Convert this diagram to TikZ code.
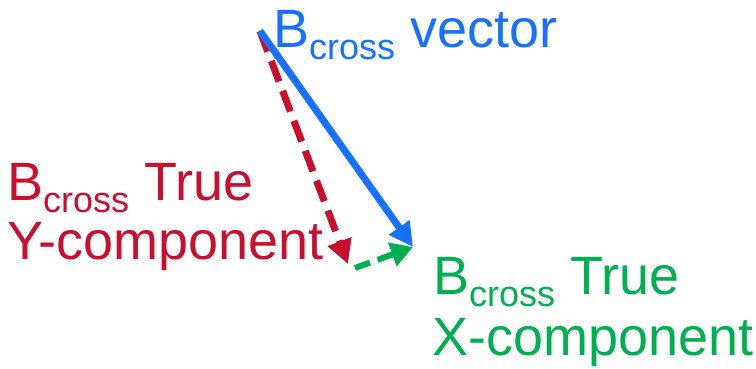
\documentclass[tikz,border=0pt]{standalone}
\usepackage{fontspec}
\setmainfont{Liberation Sans}
\usetikzlibrary{arrows.meta}
\definecolor{cblue}{RGB}{22,113,255}
\definecolor{cred}{RGB}{200,16,46}
\definecolor{cgreen}{RGB}{0,176,80}
\newcommand{\subcross}{{\fontsize{36}{36}\selectfont\raisebox{-12pt}{cross}}}
\tikzset{
  lbl/.style={inner sep=0pt, anchor=base west, font=\fontsize{54}{60}\selectfont},
  vec/.style={line width=7pt, -{Triangle[length=24pt,width=24pt]}},
}
\begin{document}
\begin{tikzpicture}[x=1pt,y=-1pt]
\useasboundingbox (0,0) rectangle (756,368);
\coordinate (top) at (260,31);
\coordinate (tipB) at (413,247);
\coordinate (tipR) at (348,264);
\coordinate (startG) at (355,268);
\node[lbl, text=cblue] (bv) at (273,47) {B\subcross{} vector};
\node[lbl, text=cred] (r1) at (7,200) {B\subcross{} True};
\node[lbl, text=cred] (r2) at (7,259) {Y-component};
\node[lbl, text=cgreen] (g1) at (433,294) {B\subcross{} True};
\node[lbl, text=cgreen] (g2) at (432,355) {X-component};
\draw[vec, cred, dash pattern=on 22pt off 10pt] (top) -- (tipR);
\draw[vec, cblue] (top) -- (tipB);
\draw[vec, cgreen, line width=6pt, dash pattern=on 16pt off 8pt, -{Triangle[length=22pt,width=24pt]}] (startG) -- (tipB);
\end{tikzpicture}
\end{document}
